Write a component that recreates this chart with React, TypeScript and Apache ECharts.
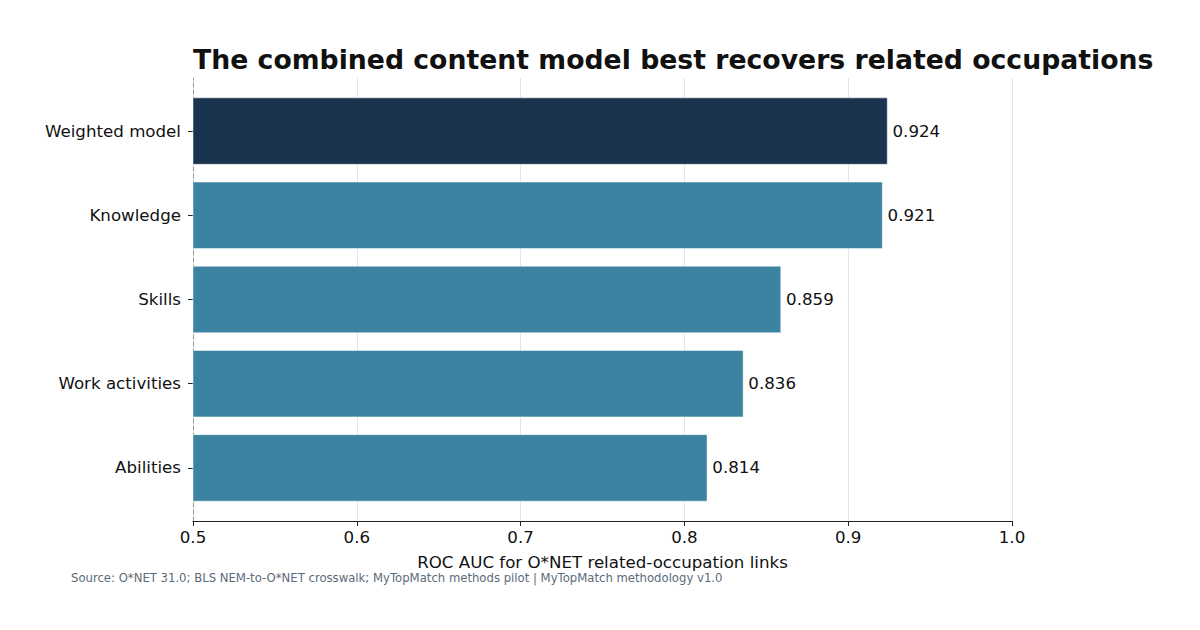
import React, { useEffect, useRef } from "react";
import * as echarts from "echarts";

const categories = ["Weighted model", "Knowledge", "Skills", "Work activities", "Abilities"];
const values = [0.924, 0.921, 0.859, 0.836, 0.814];
const barColors = ["#1a334e", "#3b83a0", "#3b83a0", "#3b83a0", "#3b83a0"];
const xTicks = [0.5, 0.6, 0.7, 0.8, 0.9, 1.0];

const FONT = "DejaVu Sans";
const FS = 16.67;

export default function App() {
  const ref = useRef<HTMLDivElement>(null);
  useEffect(() => {
    if (!ref.current) return;
    const chart = echarts.init(ref.current, null, { renderer: "svg" });
    chart.setOption({
      animation: false,
      backgroundColor: "#ffffff",
      textStyle: { fontFamily: FONT },
      title: {
        text: "The combined content model best recovers related occupations",
        left: 188,
        top: 41,
        textStyle: { fontFamily: FONT, fontSize: 26.7, fontWeight: "bold", color: "#111111" },
      },
      grid: [
        { left: 193, right: 188, top: 89, bottom: 120 },
        { left: 193, right: 188, top: 78, bottom: 109 },
      ],
      xAxis: [
        {
          gridIndex: 0,
          type: "value",
          min: xTicks[0],
          max: xTicks[xTicks.length - 1],
          interval: 0.1,
          show: false,
        },
        {
          gridIndex: 1,
          type: "value",
          min: xTicks[0],
          max: xTicks[xTicks.length - 1],
          interval: 0.1,
          name: "ROC AUC for O*NET related-occupation links",
          nameLocation: "middle",
          nameGap: 33,
          nameTextStyle: { fontFamily: FONT, fontSize: FS, color: "#111111" },
          axisLine: { show: true, lineStyle: { color: "#222222", width: 1.2 } },
          axisTick: { show: true, length: 5, lineStyle: { color: "#222222" } },
          axisLabel: {
            fontFamily: FONT,
            fontSize: FS,
            color: "#111111",
            margin: 8,
            formatter: (v: number) => v.toFixed(1),
          },
          splitLine: { show: true, lineStyle: { color: "#dfe5ec", width: 1 } },
        },
      ],
      yAxis: [
        {
          gridIndex: 0,
          type: "category",
          inverse: true,
          data: categories,
          axisLine: { show: false },
          axisTick: { show: true, alignWithLabel: true, length: 5, lineStyle: { color: "#222222" } },
          axisLabel: { fontFamily: FONT, fontSize: FS, color: "#111111", margin: 12 },
          splitLine: { show: false },
        },
        {
          gridIndex: 1,
          type: "value",
          min: 0,
          max: 1,
          axisLine: { show: true, lineStyle: { color: "#999999", type: [4, 3], width: 1 } },
          axisTick: { show: false },
          axisLabel: { show: false },
          splitLine: { show: false },
        },
      ],
      series: [
        {
          type: "bar",
          xAxisIndex: 0,
          yAxisIndex: 0,
          barWidth: 67,
          data: values.map((v, i) => ({
            value: v,
            itemStyle: { color: barColors[i], borderColor: "#ffffff", borderWidth: 0.5 },
          })),
          label: {
            show: true,
            position: "right",
            distance: 5,
            fontFamily: FONT,
            fontSize: FS,
            color: "#111111",
            formatter: (p: any) => Number(p.value).toFixed(3),
          },
        },
        {
          type: "scatter",
          xAxisIndex: 1,
          yAxisIndex: 1,
          data: [],
        },
      ],
      graphic: [
        {
          type: "text",
          left: 71,
          top: 572,
          style: {
            text: "Source: O*NET 31.0; BLS NEM-to-O*NET crosswalk; MyTopMatch methods pilot | MyTopMatch methodology v1.0",
            fontFamily: FONT,
            fontSize: 11.67,
            fill: "#5b6b7b",
          },
        },
      ],
    });
    return () => chart.dispose();
  }, []);
  return (
    <div
      ref={ref}
      style={{ position: "fixed", left: 0, top: 0, width: 1200, height: 630 }}
    />
  );
}
